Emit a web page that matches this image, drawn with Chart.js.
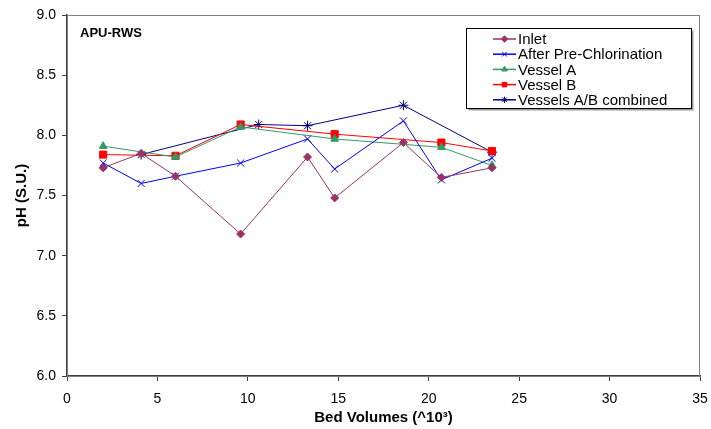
<!DOCTYPE html>
<html>
<head>
<meta charset="utf-8">
<script src="https://cdn.jsdelivr.net/npm/chart.js@4"></script>
<style>
  html, body { margin: 0; padding: 0; background: #fff; }
  #wrap { width: 711px; height: 429px; }
</style>
</head>
<body>
<div id="wrap"><canvas id="phChart" width="711" height="429"></canvas></div>
<script>
// valores (Bed Volumes x10^3 vs pH)
const inletX = [2.0, 4.1, 6.0, 9.6, 13.3, 14.8, 18.6, 20.7, 23.5];
const inletPH = [7.73, 7.85, 7.66, 7.18, 7.82, 7.48, 7.94, 7.65, 7.73];
const preChlorPH = [7.77, 7.60, 7.66, 7.77, 7.97, 7.72, 8.12, 7.63, 7.81];
const vesselX = [2.0, 6.0, 9.6, 14.8, 20.7, 23.5];
const vesselAPH = [7.91, 7.82, 8.07, 7.97, 7.90, 7.75];
const vesselBPH = [7.84, 7.83, 8.09, 8.01, 7.94, 7.87];
const combinedX = [4.1, 10.6, 13.3, 18.6, 23.5];
const combinedPH = [7.84, 8.09, 8.08, 8.25, 7.86];
const seriesNames = ['Inlet', 'After Pre-Chlorination', 'Vessel A', 'Vessel B', 'Vessels A/B combined'];
const xTicks = [0, 5, 10, 15, 20, 25, 30, 35];
const yTicks = [6.0, 6.5, 7.0, 7.5, 8.0, 8.5, 9.0];

const FONT = "Arial, 'Liberation Sans', sans-serif";

function pares(xs, ys) {
    return xs.map((x, i) => ({ x: x, y: ys[i] }));
}

function serie(label, xs, ys, color, style, radius) {
    return {
        label: label,
        data: pares(xs, ys),
        borderColor: color,
        backgroundColor: color,
        borderWidth: 1,
        pointStyle: style,
        pointRadius: radius,
        pointBorderWidth: 1,
        pointBackgroundColor: color,
        pointBorderColor: color,
        tension: 0
    };
}

// leyenda y etiqueta dibujadas a mano, dentro del area del grafico
const extras = {
    id: 'extras',
    afterDraw(chart) {
        const ctx = chart.ctx;
        const a = chart.chartArea;
        ctx.save();
        // marco del area
        ctx.strokeStyle = '#808080';
        ctx.lineWidth = 1;
        ctx.strokeRect(a.left + 0.5, a.top + 0.5, a.right - a.left - 1, a.bottom - a.top);

        ctx.fillStyle = '#000';
        ctx.font = 'bold 13px ' + FONT;
        ctx.textBaseline = 'middle';
        ctx.textAlign = 'left';
        ctx.fillText('APU-RWS', 80, 33);

        // caja de la leyenda
        const bx = 466.5, by = 28.5, bw = 225, bh = 80;
        ctx.fillStyle = '#999';
        ctx.fillRect(bx + 2, by + 2, bw, bh);
        ctx.fillStyle = '#fff';
        ctx.fillRect(bx, by, bw, bh);
        ctx.strokeStyle = '#000';
        ctx.strokeRect(bx, by, bw, bh);

        ctx.font = '15px ' + FONT;
        chart.data.datasets.forEach((ds, i) => {
            const y = 39 + i * 15.2;
            ctx.strokeStyle = ds.borderColor;
            ctx.lineWidth = 1.5;
            ctx.beginPath();
            ctx.moveTo(493, y);
            ctx.lineTo(516, y);
            ctx.stroke();
            ctx.fillStyle = ds.borderColor;
            ctx.lineWidth = 1;
            Chart.helpers.drawPoint(ctx, {
                pointStyle: ds.pointStyle,
                radius: 3.2,
                borderWidth: 1,
                rotation: 0
            }, 504.5, y);
            ctx.fillStyle = '#000';
            ctx.fillText(ds.label, 518, y + 1);
        });
        ctx.restore();
    }
};

const ctx = document.getElementById('phChart').getContext('2d');
new Chart(ctx, {
    type: 'line',
    data: {
        datasets: [
            serie(seriesNames[0], inletX, inletPH, '#993366', 'rectRot', 4),
            serie(seriesNames[1], inletX, preChlorPH, '#0000FF', 'crossRot', 5),
            serie(seriesNames[2], vesselX, vesselAPH, '#339966', 'triangle', 4.5),
            serie(seriesNames[3], vesselX, vesselBPH, '#FF0000', 'rect', 5),
            serie(seriesNames[4], combinedX, combinedPH, '#000080', 'star', 5)
        ]
    },
    options: {
        responsive: false,
        animation: false,
        layout: { padding: { top: 15, right: 11, left: 0, bottom: 0 } },
        plugins: {
            legend: { display: false },
            tooltip: { enabled: false }
        },
        scales: {
            x: {
                type: 'linear',
                min: 0,
                max: 35,
                afterBuildTicks: s => { s.ticks = xTicks.map(v => ({ value: v })); },
                afterFit: s => { s.height = 53; s.paddingLeft = 0; s.paddingRight = 0; },
                grid: { drawOnChartArea: false, tickLength: 5, color: '#404040' },
                border: { color: '#404040', width: 1.5 },
                ticks: { color: '#000', padding: 10, font: { family: FONT, size: 14 }, maxRotation: 0 },
                title: {
                    display: true,
                    text: 'Bed Volumes (^10³)',
                    color: '#000',
                    font: { family: FONT, size: 15, weight: 'bold' },
                    padding: { top: 0, bottom: 2 }
                }
            },
            y: {
                min: 6,
                max: 9,
                afterBuildTicks: s => { s.ticks = yTicks.map(v => ({ value: v })); },
                afterFit: s => { s.width = 67; s.paddingTop = 0; s.paddingBottom = 0; },
                grid: { drawOnChartArea: false, tickLength: 5, color: '#404040' },
                border: { color: '#404040', width: 1.5 },
                ticks: {
                    color: '#000',
                    padding: 6,
                    font: { family: FONT, size: 14 },
                    callback: v => Number(v).toFixed(1)
                },
                title: {
                    display: true,
                    text: 'pH (S.U.)',
                    color: '#000',
                    font: { family: FONT, size: 15, weight: 'bold' },
                    padding: { top: 13, bottom: 0 }
                }
            }
        }
    },
    plugins: [extras]
});
</script>
</body>
</html>
